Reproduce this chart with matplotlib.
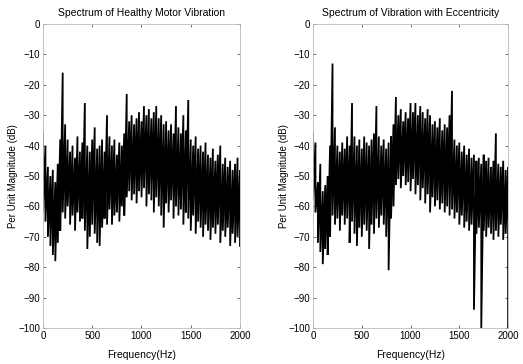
import numpy as np
import matplotlib.pyplot as plt

plt.rcParams['font.family'] = ['Liberation Sans', 'DejaVu Sans']

# frequency grid (Hz) the envelopes were read at
freq = list(range(0, 2001, 25))

# healthy motor: peak / trough levels (dB)
healthy_top = [-36, -40, -47, -50, -48, -52, -46, -38, -16, -33,
               -38, -42, -40, -44, -37, -42, -39, -26, -40, -42,
               -38, -34, -41, -40, -38, -42, -30, -37, -40, -38,
               -43, -39, -40, -36, -23, -32, -30, -33, -31, -29,
               -32, -27, -30, -28, -31, -29, -27, -31, -30, -33,
               -32, -35, -33, -36, -27, -34, -36, -30, -35, -25,
               -38, -40, -37, -41, -40, -42, -39, -43, -44, -41,
               -45, -43, -40, -46, -44, -47, -45, -48, -46, -44, -48]
healthy_bot = [-62, -65, -70, -73, -76, -78, -72, -68, -62, -64,
               -60, -66, -63, -68, -62, -65, -64, -68, -74, -70,
               -66, -69, -72, -73, -67, -64, -66, -61, -66, -63,
               -62, -65, -60, -63, -57, -55, -58, -56, -59, -55,
               -57, -54, -60, -56, -58, -62, -57, -60, -63, -67,
               -59, -62, -58, -64, -60, -63, -61, -66, -62, -64,
               -68, -63, -69, -65, -67, -70, -66, -68, -71, -67,
               -69, -66, -72, -68, -70, -67, -73, -69, -72, -70, -73]

# motor with eccentricity
ecc_top = [-36, -39, -52, -46, -55, -53, -50, -40, -13, -34,
           -40, -42, -39, -41, -37, -40, -26, -37, -40, -38,
           -41, -37, -39, -40, -38, -36, -27, -37, -40, -38,
           -41, -39, -37, -33, -24, -30, -28, -32, -29, -31,
           -26, -29, -26, -30, -27, -29, -31, -28, -30, -33,
           -32, -34, -31, -35, -33, -34, -30, -22, -38, -40,
           -39, -42, -40, -43, -41, -44, -43, -45, -44, -46,
           -43, -45, -44, -47, -45, -36, -46, -47, -45, -48, -47]
ecc_bot = [-58, -62, -72, -75, -79, -74, -76, -70, -63, -66,
           -64, -68, -63, -66, -64, -72, -65, -69, -73, -67,
           -70, -66, -68, -74, -66, -69, -64, -67, -63, -66,
           -70, -81, -64, -60, -53, -51, -54, -50, -53, -52,
           -55, -51, -56, -53, -58, -54, -59, -56, -62, -57,
           -60, -58, -61, -59, -62, -60, -63, -61, -64, -62,
           -66, -63, -67, -65, -68, -66, -94, -69, -67, -100,
           -68, -70, -67, -69, -71, -68, -70, -66, -71, -69, -100]

titles = ['Spectrum of Healthy Motor Vibration',
          'Spectrum of Vibration with Eccentricity']
x_ticks = [0, 500, 1000, 1500, 2000]
y_ticks = list(range(-100, 1, 10))

fig = plt.figure(figsize=(5.23, 3.64), dpi=100)
ax1 = fig.add_axes([0.0822, 0.099, 0.3767, 0.835])
ax2 = fig.add_axes([0.5985, 0.099, 0.373, 0.835])

for ax, top, bot, title in [(ax1, healthy_top, healthy_bot, titles[0]),
                            (ax2, ecc_top, ecc_bot, titles[1])]:
    # zig-zag between peak and trough at each frequency
    xs = np.repeat(freq, 2)
    ys = np.column_stack([top, bot]).ravel()
    ax.plot(xs, ys, color='black', lw=1.3, solid_joinstyle='miter')
    ax.set_xlim(0, 2000)
    ax.set_ylim(-100, 0)
    ax.set_xticks(x_ticks)
    ax.set_yticks(y_ticks)
    ax.tick_params(direction='in', length=2, width=0.6, labelsize=7,
                   top=True, right=True, pad=2, color='#555555')
    for s in ax.spines.values():
        s.set_color('#bbbbbb')
        s.set_linewidth(0.6)
    ax.set_title(title, fontsize=7.5, pad=6)
    ax.set_xlabel('Frequency(Hz)', fontsize=7.5, labelpad=7)
    ax.set_ylabel('Per Unit Magnitude (dB)', fontsize=7)
    ax.yaxis.set_label_coords(-0.125, 0.5)

fig.savefig('out.png', dpi=100)
